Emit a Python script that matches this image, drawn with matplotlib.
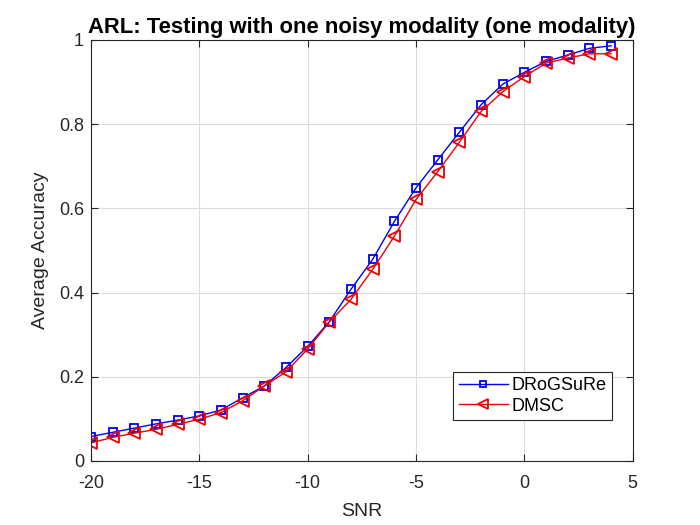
import matplotlib
matplotlib.use("Agg")
import matplotlib.pyplot as plt
import numpy as np

snr = list(range(-20, 5))
drogsure = [0.058, 0.068, 0.078, 0.088, 0.097, 0.107, 0.121, 0.150, 0.178, 0.222,
            0.272, 0.331, 0.408, 0.479, 0.569, 0.649, 0.715, 0.781, 0.846, 0.895,
            0.923, 0.949, 0.964, 0.980, 0.986]
dmsc = [0.043, 0.056, 0.066, 0.075, 0.087, 0.099, 0.115, 0.143, 0.178, 0.212,
        0.266, 0.330, 0.384, 0.455, 0.534, 0.621, 0.687, 0.757, 0.830, 0.877,
        0.913, 0.945, 0.957, 0.967, 0.967]
xticks = [-20, -15, -10, -5, 0, 5]
yticks = [0, 0.2, 0.4, 0.6, 0.8, 1]
yticklabels = ["0", "0.2", "0.4", "0.6", "0.8", "1"]

plt.rcParams['font.family'] = ['Liberation Sans', 'DejaVu Sans']
plt.rcParams['axes.unicode_minus'] = False

fig = plt.figure(figsize=(7, 5.25), dpi=100)
ax = fig.add_axes([0.13, 0.122, 0.774, 0.802])

ax.plot(snr, drogsure, color='#0000ee', marker='s', markersize=6, markerfacecolor='none',
        markeredgewidth=1.3, linewidth=1.0, label='DRoGSuRe')
ax.plot(snr, dmsc, color='#ee0000', marker='<', markersize=9, markerfacecolor='none',
        markeredgewidth=1.3, linewidth=1.0, label='DMSC')

ax.set_xlim(-20, 5)
ax.set_ylim(0, 1)
ax.set_xticks(xticks)
ax.set_yticks(yticks)
ax.set_yticklabels(yticklabels)
ax.grid(True, color='#dcdcdc', linewidth=0.8)
ax.set_axisbelow(True)
ax.tick_params(direction='in', length=5, labelsize=13, colors='#262626', top=True, right=True,
               labeltop=False, labelright=False)
ax.tick_params(axis='x', pad=10)
ax.tick_params(axis='y', pad=5)
for s in ax.spines.values():
    s.set_color('#262626')
    s.set_linewidth(0.8)

ax.set_xlabel('SNR', fontsize=14, color='#262626', labelpad=8)
ax.set_ylabel('Average Accuracy', fontsize=14, color='#262626', labelpad=7)
ax.set_title('ARL: Testing with one noisy modality (one modality)', fontsize=15.8,
             fontweight='bold', pad=5)

leg = ax.legend(loc='lower right', bbox_to_anchor=(0.961, 0.097), fontsize=13, fancybox=False,
                framealpha=1, edgecolor='#262626', borderpad=0.3, handlelength=2.7,
                labelspacing=0.2, handletextpad=0.2, borderaxespad=0, markerscale=0.8)
leg.get_frame().set_linewidth(0.8)

fig.savefig('out.png', dpi=100)
